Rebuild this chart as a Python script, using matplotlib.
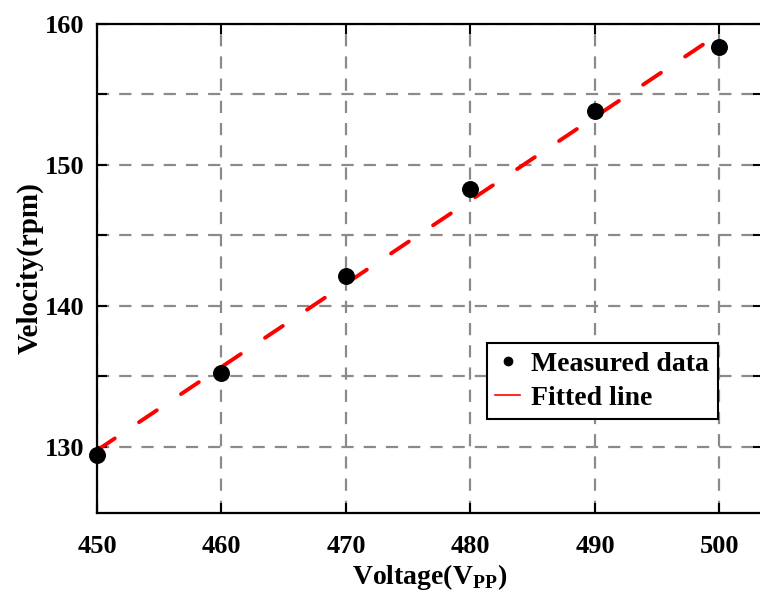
import numpy as np
import matplotlib.pyplot as plt
from matplotlib.ticker import MultipleLocator
from matplotlib.lines import Line2D

# Datos
voltage = [450, 460, 470, 480, 490, 500]
velocity = [129.4, 135.2, 142.1, 148.3, 153.8, 158.4]
x_ticks = [450, 460, 470, 480, 490, 500]
y_ticks = [130, 140, 150, 160]

plt.rcParams['font.family'] = ['Liberation Serif', 'DejaVu Serif']
plt.rcParams['font.weight'] = 'bold'
plt.rcParams['mathtext.fontset'] = 'custom'
plt.rcParams['mathtext.rm'] = 'Liberation Serif:bold'
plt.rcParams['mathtext.bf'] = 'Liberation Serif:bold'

fig = plt.figure(figsize=(7.6, 5.91), dpi=100)
ax = fig.add_axes([97 / 760, 1 - 513 / 591, 666 / 760, 489 / 591])

# Recta ajustada por minimos cuadrados
slope, intercept = np.polyfit(voltage, velocity, 1)
x_fit = np.array([voltage[0], voltage[-1]])
ax.plot(x_fit, slope * x_fit + intercept, color='red', lw=2.8,
        dashes=(5.5, 7.5), solid_capstyle='round', dash_capstyle='round', zorder=3)
ax.scatter(voltage, velocity, s=125, color='black', zorder=4, clip_on=False)

ax.set_xlim(450, 503.5)
ax.set_ylim(125.3, 160)
ax.yaxis.set_minor_locator(MultipleLocator(5))
ax.set_xticks(x_ticks)
ax.set_yticks(y_ticks)

ax.grid(True, which='both', color='#8a8a8a', lw=1.6, dashes=(5.5, 4.5))
ax.tick_params(which='both', direction='in', top=True, right=True,
               labelsize=19, width=1.5, length=7)
ax.tick_params(axis='x', pad=16)
ax.tick_params(axis='y', pad=9)
for s in ax.spines.values():
    s.set_linewidth(1.6)

ax.set_xlabel(r'Voltage(V$_{\mathregular{PP}}$)', fontsize=20, fontweight='bold', labelpad=3)
ax.set_ylabel('Velocity(rpm)', fontsize=21, fontweight='bold', labelpad=1)

handles = [Line2D([], [], marker='o', ls='none', color='black', markersize=6),
           Line2D([], [], color='red', lw=1.2)]
leg = ax.legend(handles, ['Measured data', 'Fitted line'], loc='lower left',
                bbox_to_anchor=((487 - 97) / 666, (513 - 419) / 489),
                fontsize=20, frameon=True, fancybox=False, framealpha=1,
                edgecolor='black', handlelength=0.9, handletextpad=0.4,
                borderpad=0.3, labelspacing=0.3, borderaxespad=0)
leg.get_frame().set_linewidth(1.5)

plt.savefig('out.png', dpi=100)
plt.close(fig)
